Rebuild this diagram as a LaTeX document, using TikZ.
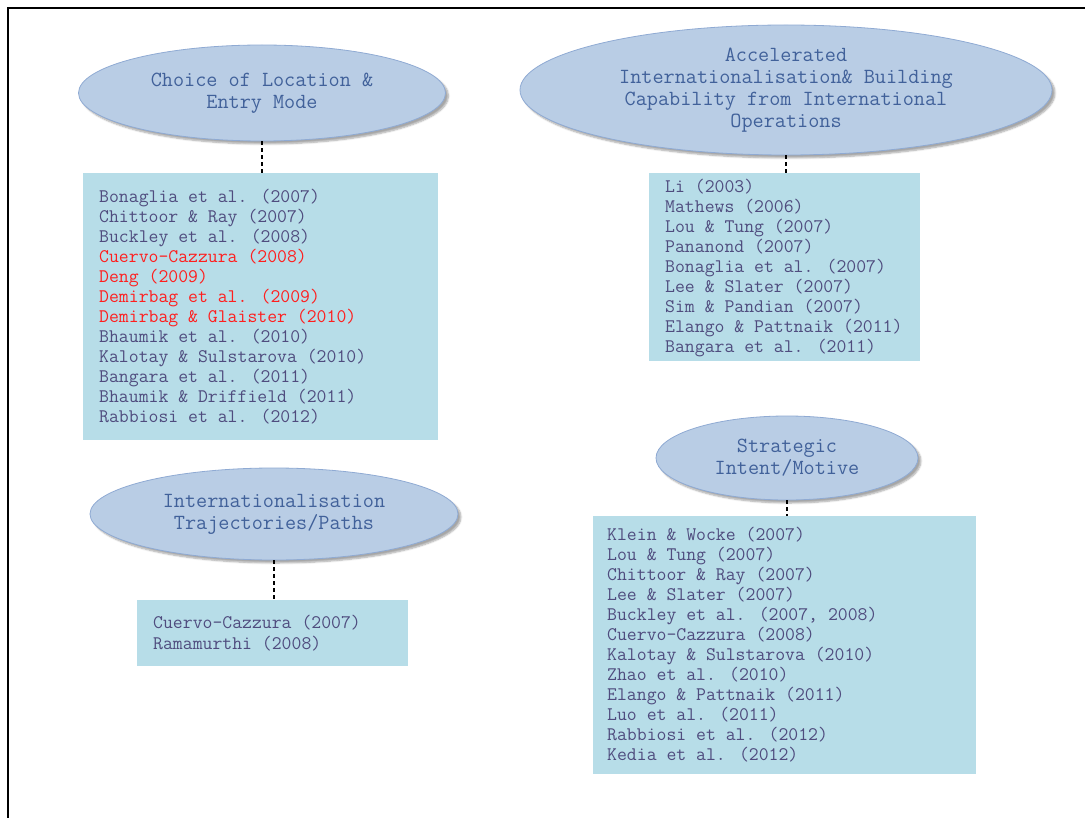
\documentclass[tikz,border=0pt]{standalone}
\usetikzlibrary{shapes.geometric,shadows.blur,calc}
\definecolor{ellfill}{HTML}{B9CDE5}
\definecolor{elledge}{HTML}{8FAAD3}
\definecolor{elltext}{HTML}{41619A}
\definecolor{boxtext}{HTML}{4F4C7E}
\definecolor{boxfill}{HTML}{B7DDE8}
\definecolor{hilite}{HTML}{FF1E1E}
\begin{document}
\begin{tikzpicture}[x=1pt,y=-1pt,
  topic/.style={ellipse, fill=ellfill, draw=elledge, line width=0.8pt, inner sep=0pt,
    align=center, text=elltext, font=\fontsize{21.6}{22}\selectfont\ttfamily,
    blur shadow={shadow xshift=3pt, shadow yshift=-3pt, shadow opacity=35, shadow blur steps=6}},
  refbox/.style={rectangle, fill=boxfill, draw=none, anchor=north west, inner sep=0pt},
  reflist/.style={anchor=north west, align=left, inner sep=0pt, text=boxtext,
    font=\fontsize{19.2}{20}\selectfont\ttfamily},
  conn/.style={draw=black, line width=1.4pt, dash pattern=on 4pt off 3pt}]
\useasboundingbox (0,0) rectangle (1085,818);
% page frame
\draw[line width=1.3pt] (8,818) -- (8,8) -- (1085,8);

% themes
\node[topic, minimum width=367, minimum height=96] (e1) at (262,93)
  {Choice of Location \&\\Entry Mode};
\node[topic, minimum width=532, minimum height=130] (e2) at (786,90)
  {Accelerated\\Internationalisation\& Building\\Capability from International\\Operations};
\node[topic, minimum width=368, minimum height=92] (e3) at (274,514)
  {Internationalisation\\Trajectories/Paths};
\node[topic, minimum width=262, minimum height=84] (e4) at (787,458)
  {Strategic\\Intent/Motive};

% reference boxes
\node[refbox, minimum width=355, minimum height=267] (b1) at (83,173) {};
\node[refbox, minimum width=271, minimum height=188] (b2) at (649,173) {};
\node[refbox, minimum width=271, minimum height=66] (b3) at (137,600) {};
\node[refbox, minimum width=383, minimum height=258] (b4) at (593,516) {};

\node[reflist] (t1) at (99,189) {Bonaglia et al. (2007)\\Chittoor \& Ray (2007)\\Buckley et al. (2008)\\
  \textcolor{hilite}{Cuervo-Cazzura (2008)}\\\textcolor{hilite}{Deng (2009)}\\
  \textcolor{hilite}{Demirbag et al. (2009)}\\\textcolor{hilite}{Demirbag \& Glaister (2010)}\\
  Bhaumik et al. (2010)\\Kalotay \& Sulstarova (2010)\\Bangara et al. (2011)\\
  Bhaumik \& Driffield (2011)\\Rabbiosi et al. (2012)};
\node[reflist] (t2) at (665,179) {Li (2003)\\Mathews (2006)\\Lou \& Tung (2007)\\Pananond (2007)\\
  Bonaglia et al. (2007)\\Lee \& Slater (2007)\\Sim \& Pandian (2007)\\
  Elango \& Pattnaik (2011)\\Bangara et al. (2011)};
\node[reflist, font=\fontsize{19.2}{21}\selectfont\ttfamily] (t3) at (153,615)
  {Cuervo-Cazzura (2007)\\Ramamurthi (2008)};
\node[reflist] (t4) at (607,527) {Klein \& Wocke (2007)\\Lou \& Tung (2007)\\Chittoor \& Ray (2007)\\
  Lee \& Slater (2007)\\Buckley et al. (2007, 2008)\\Cuervo-Cazzura (2008)\\
  Kalotay \& Sulstarova (2010)\\Zhao et al. (2010)\\Elango \& Pattnaik (2011)\\
  Luo et al. (2011)\\Rabbiosi et al. (2012)\\Kedia et al. (2012)};

% links from each theme to its references
\draw[conn] (e1.south) -- (e1.south |- b1.north);
\draw[conn] (e2.south) -- (e2.south |- b2.north);
\draw[conn] (e3.south) -- (e3.south |- b3.north);
\draw[conn] (e4.south) -- (e4.south |- b4.north);
\end{tikzpicture}
\end{document}
